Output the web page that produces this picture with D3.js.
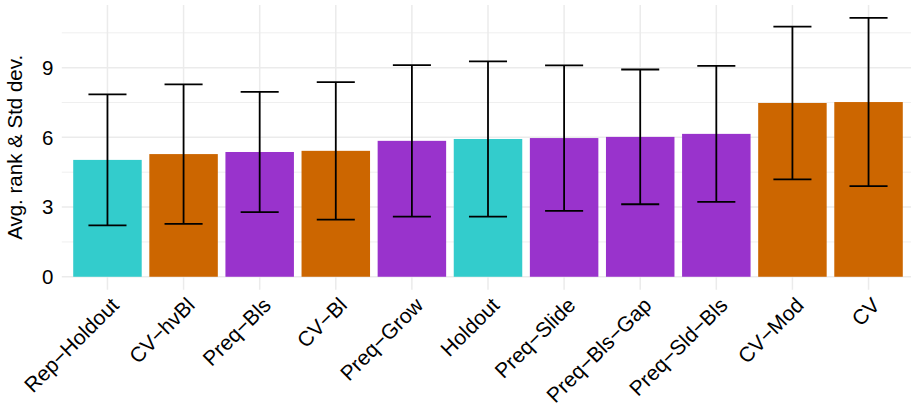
<!DOCTYPE html>
<html><head><meta charset="utf-8">
<script src="https://cdn.jsdelivr.net/npm/d3@7"></script>
<style>body{margin:0;background:#fff}svg{display:block}</style>
</head><body>
<script>
const categories = ["Rep\u2212Holdout","CV\u2212hvBl","Preq\u2212Bls","CV\u2212Bl","Preq\u2212Grow","Holdout","Preq\u2212Slide","Preq\u2212Bls\u2212Gap","Preq\u2212Sld\u2212Bls","CV\u2212Mod","CV"];
const avgRank = [5.03,5.28,5.37,5.42,5.85,5.93,5.97,6.02,6.15,7.48,7.52];
const stdDev  = [2.82,3.00,2.59,2.96,3.26,3.34,3.13,2.90,2.93,3.29,3.62];
const group   = ["A","B","C","B","C","A","C","C","C","B","B"];
const groupColors = {A:"#33CCCC", B:"#CC6600", C:"#9933CC"};
const yTicks = [0,3,6,9];
const yMinor = [1.5,4.5,7.5,10.5];

(function(){
const W=911,H=411;
const svg=d3.select("body").append("svg").attr("width",W).attr("height",H);
const pTop=5,pBottom=289.7,pLeft=61.8,pRight=914.2;
const ymax=d3.max(avgRank.map((v,i)=>v+stdDev[i]));
const y=d3.scaleLinear().domain([-0.05*ymax,1.05*ymax]).range([pBottom,pTop]);
const x=d3.scaleBand().domain(categories).range([pLeft,pRight]).paddingInner(0.1).paddingOuter(0.15);
const step=x.step();
const cx=d=>x(d)+x.bandwidth()/2;
const font="Liberation Sans, Arial, sans-serif";
const g=svg.append("g");
g.selectAll(".ymin").data(yMinor).join("line").attr("x1",pLeft).attr("x2",W).attr("y1",d=>y(d)).attr("y2",d=>y(d)).attr("stroke","#EBEBEB").attr("stroke-width",0.8);
g.selectAll(".ymaj").data(yTicks).join("line").attr("x1",pLeft).attr("x2",W).attr("y1",d=>y(d)).attr("y2",d=>y(d)).attr("stroke","#EBEBEB").attr("stroke-width",1.5);
g.selectAll(".xmaj").data(categories).join("line").attr("x1",cx).attr("x2",cx).attr("y1",pTop).attr("y2",pBottom).attr("stroke","#EBEBEB").attr("stroke-width",1.5);
g.selectAll(".bar").data(categories).join("rect").attr("x",d=>x(d)).attr("width",x.bandwidth())
 .attr("y",(d,i)=>y(avgRank[i])).attr("height",(d,i)=>y(0)-y(avgRank[i])).attr("fill",(d,i)=>groupColors[group[i]]);
const eb=g.selectAll(".eb").data(categories).join("g").attr("stroke","#000").attr("stroke-width",1.8).attr("fill","none");
eb.append("line").attr("x1",cx).attr("x2",cx)
 .attr("y1",(d,i)=>y(avgRank[i]+stdDev[i])).attr("y2",(d,i)=>y(avgRank[i]-stdDev[i]));
eb.append("line").attr("x1",d=>cx(d)-step*0.25).attr("x2",d=>cx(d)+step*0.25)
 .attr("y1",(d,i)=>y(avgRank[i]+stdDev[i])).attr("y2",(d,i)=>y(avgRank[i]+stdDev[i]));
eb.append("line").attr("x1",d=>cx(d)-step*0.25).attr("x2",d=>cx(d)+step*0.25)
 .attr("y1",(d,i)=>y(avgRank[i]-stdDev[i])).attr("y2",(d,i)=>y(avgRank[i]-stdDev[i]));
g.selectAll(".yt").data(yTicks).join("text").attr("x",53.5).attr("y",d=>y(d)).attr("dy","0.36em")
 .attr("text-anchor","end").attr("font-family",font).attr("font-size",20.5).attr("fill","#000").text(d=>d);
g.selectAll(".xt").data(categories).join("text")
 .attr("transform",d=>`translate(${cx(d)+2},296) rotate(-45)`)
 .attr("dy","0.71em").attr("text-anchor","end").attr("font-family",font).attr("font-size",21).attr("fill","#000").text(d=>d);
svg.append("text").attr("transform",`translate(14.5,${(pTop+pBottom)/2}) rotate(-90)`).attr("dy","0.36em")
 .attr("text-anchor","middle").attr("font-family",font).attr("font-size",20.5).attr("fill","#000").text("Avg. rank & Std dev.");
})();
</script>
</body></html>
